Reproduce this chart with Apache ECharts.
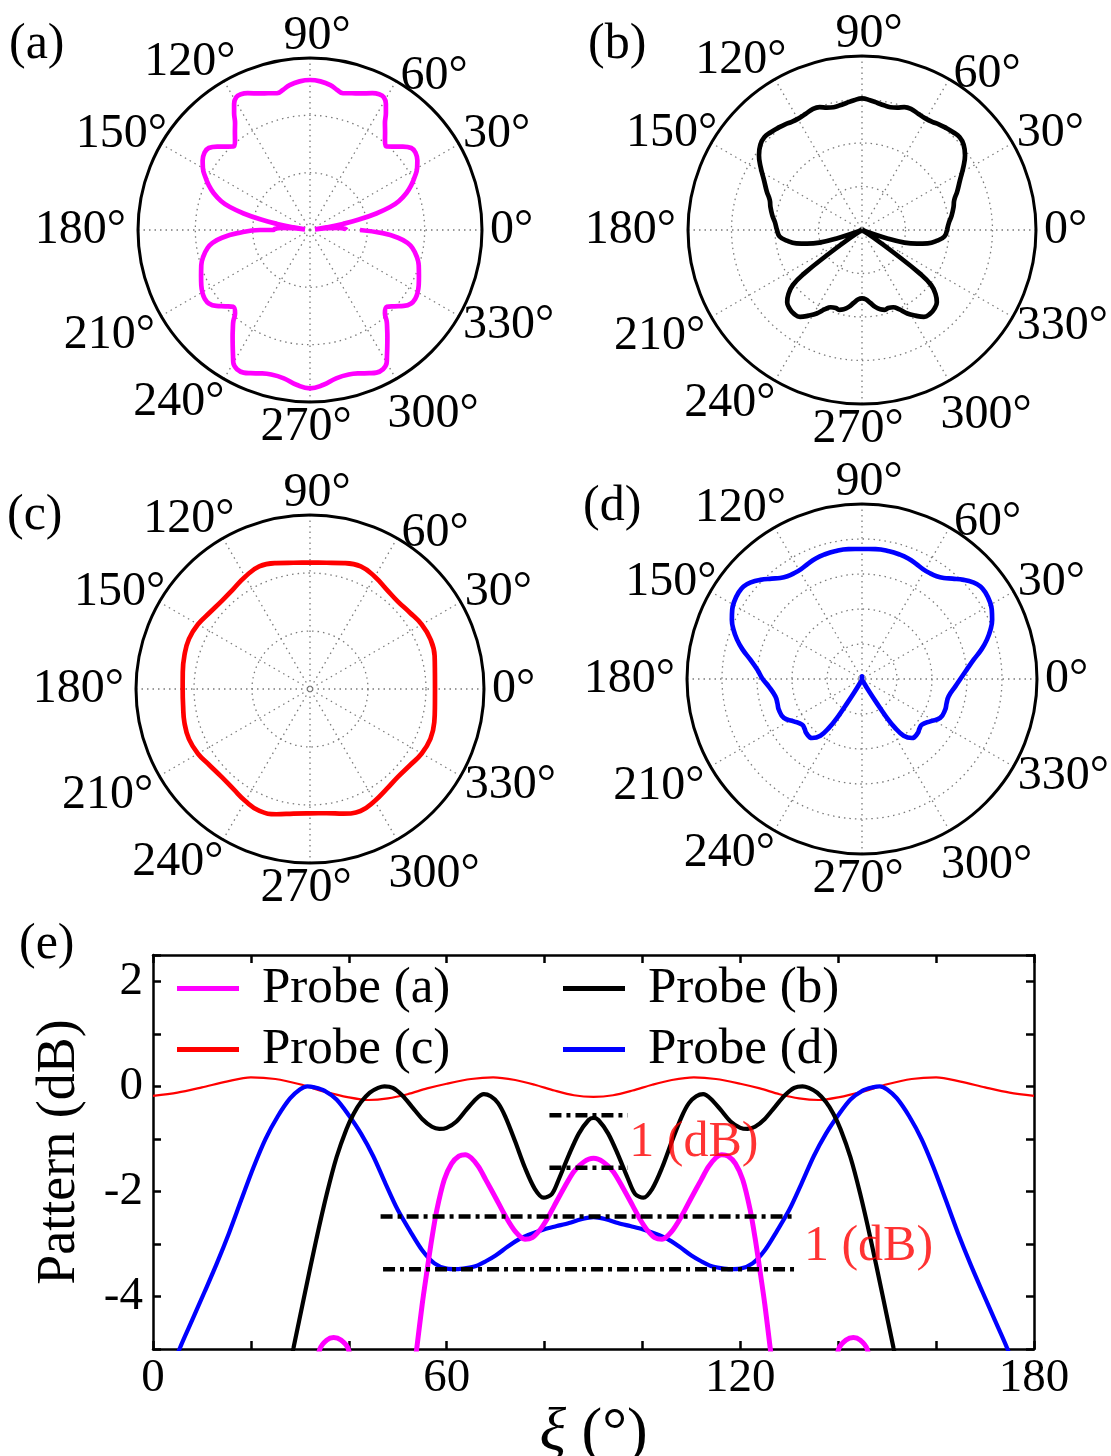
<!DOCTYPE html>
<html><head><meta charset="utf-8">
<script src="https://cdn.jsdelivr.net/npm/echarts@6/dist/echarts.min.js"></script>
<style>html,body{margin:0;padding:0;background:#fff}#chart{width:1111px;height:1456px}</style>
</head><body><div id="chart"></div>
<script>
const FONT = 'Liberation Serif';

// ---------- Polar (a): angle (deg) and radius (arbitrary units, outer circle = 516) ----------
const thetaA = [0,2,4,6,7.5,9,10.5,12,14,16,18,21,24,27,30,33,36,39,42,45,47.5,50,52.5,55,57,59,61,63,65.5,70,73,76.5,79,82,86,90,
  94,98,101,103.5,107,110,114.5,117,119,121,123,125,127.5,130,132.5,135,138,141,144,147,150,153,156,159,162,164,166,168,169.5,171,172.5,174,176,178,180,
  180,182.5,185,187.5,190,194,198,203,207,210.5,213,216,219,222,225,228,230,232,234,236.5,238.5,240,242.5,245,247.5,251,255,260,265,270,
  275,280,285,289,292.5,295,297.5,300,301.5,303.5,306,308,310,312,315,318,321,324,327,329.5,333,337,342,346,350,352.5,355,357.5,360];
const radiusA = [110,105,85,50,15,50,100,150,205,250,280,310,333,353,371,384,392,391,374,354,340,350,370,392,418,442,456,457,451,436,429,422,428,439,447,450,
  447,439,428,422,429,436,451,457,456,442,418,392,370,350,340,354,374,391,392,384,371,353,333,310,280,250,205,150,100,50,15,50,85,105,110,
  150,218,265,295,312,330,343,355,366,374,377,375,362,342,326,336,358,376,395,420,442,460,472,472,465,455,449,452,466,475,
  466,452,449,455,465,472,472,460,442,420,395,376,358,336,326,342,362,375,377,374,366,355,343,330,312,295,265,218,150];

// ---------- Polar (b): outer circle = 522 ----------
const thetaB = [0,5,9,14,18,22,27,32,36,40,43.5,47,51,54,57,60,64,68,71,74,77,80,83,86.5,90,
  93.5,97,100,103,106,109,112,116,120,123,126,129,133,136.5,140,144,148,153,158,162,166,171,175,180,
  184.5,188,191.5,194,196.5,198.5,200.5,203,207,211,213.5,215.5,217,218.5,221,224,227.5,231,234.5,238,241.5,245,248,251.5,254,257,260,263.5,267,270,
  273,276.5,280,283,286,288.5,292,295,298.5,302,305.5,309,312.5,316,319,321.5,323,324.5,326.5,329,333,337,339.5,341.5,343.5,346,348.5,352,355.5,360];
const radiusB = [255,262,272,283,291,308,330,359,382,398,404,401,396,392,387,385,387,392,390,382,378,380,384,390,395,
  390,384,380,378,382,390,392,387,385,387,392,396,401,404,398,382,359,330,308,291,283,272,262,255,
  248,228,201,170,133,75,20,0,0,0,40,115,220,265,292,312,321,324,320,303,285,262,250,247,249,244,235,220,208,205,
  208,220,235,244,249,247,250,262,285,303,320,324,321,312,292,265,220,115,40,0,0,0,20,75,133,170,201,228,248,255];

// ---------- Polar (c): outer circle = 522 ----------
const thetaC = [0,7.5,15,22.5,30,37.5,45,52.5,60,67.5,75,82.5,90,97.5,105,112.5,120,127.5,135,142.5,150,157.5,165,172.5,180,
  187.5,195,202.5,210,217.5,225,232.5,240,247.5,255,262.5,270,277.5,285,292.5,300,307.5,315,322.5,330,337.5,345,352.5,360];
const radiusC = [375,378,387,391,387,377,372,377,389,398,391,382,379,382,391,398,389,378,374,378,388,393,390,385,382,
  384,390,393,388,378,374,378,388,396,389,377,373,376,387,396,388,378,373,377,387,391,386,378,375];

// ---------- Polar (d): outer circle = 525 ----------
const thetaD = [0,5,9.8,14,17.5,21,24.5,28,31,35,38,41,44.3,48,51,54,57.5,61,65,69,73,78,84,90,
  96,102,107,111,115,119,122.5,126,129,132,135.7,139,142,145,149,152,155.5,159,162.5,166,170.2,175,180,
  184.5,191.3,196,200.2,206.5,211.8,217.3,221,224.1,229.7,233.7,236,237.5,238.5,240,243,255,
  90,
  285,297,300,301.5,302.5,304,306.3,310.3,315.9,319,322.7,328.2,333.5,339.8,344,348.7,355.5,360];
const radiusD = [295,315,340,370,393,413,429,441,448,452,451,442,426,405,390,381,377,377,382,387,390,392,392,390,
  392,392,390,387,382,377,377,381,390,405,426,442,451,452,448,441,429,413,393,370,340,315,298,
  281,265,264,266,262,241,226,228,233,232,211,175,130,85,45,15,2,
  8,
  2,15,45,85,130,175,211,232,233,228,226,241,262,266,264,265,281,295];

// ---------- Panel (e): pattern in dB vs xi (deg) ----------
const xiA = [31,34.1,35.5,36.9,38.4,39.9,43,46,
  52.5,53.9,55,56,57,58,59.5,61,62.5,63.8,65,66.5,68,70,72,74,76,77.5,79,80.5,82,84,86,88,90,
  92,94,96,98,99.5,101,102.5,104,106,108,110,112,113.5,115,116.2,117.5,119,120.5,122,123,124,125,126.1,127.5,
  134,137,140.1,141.6,143.1,144.5,145.9,149];
const dbA = [-6.2,-5.0,-4.83,-4.78,-4.83,-5.0,-6.2,'-',
  -6.0,-4.98,-4.15,-3.5,-2.88,-2.35,-1.78,-1.47,-1.33,-1.3,-1.36,-1.53,-1.78,-2.12,-2.47,-2.76,-2.91,-2.88,-2.74,-2.53,-2.27,-1.93,-1.62,-1.44,-1.37,
  -1.44,-1.62,-1.93,-2.27,-2.53,-2.74,-2.88,-2.91,-2.76,-2.47,-2.12,-1.78,-1.53,-1.36,-1.3,-1.33,-1.47,-1.78,-2.35,-2.88,-3.5,-4.15,-4.98,-6.0,
  '-',-6.2,-5.0,-4.83,-4.78,-4.83,-5.0,-6.2];

const xiB = [27,28.7,31,33.4,35.5,37.5,39.5,41,42.5,44.3,46,47.3,49,51,53,55,57,58.5,60,62,64,66,67.6,69,70.5,72,74,76,78,79.8,81.5,83,85,87,89,90,
  91,93,95,97,98.5,100.2,102,104,106,108,109.5,111,112.4,114,116,118,120,121.5,123,125,127,129,131,132.7,134,135.7,137.5,139,140.5,142.5,144.5,146.6,149,151.3,153];
const dbB = [-5.7,-4.98,-3.95,-2.9,-2.05,-1.35,-0.82,-0.52,-0.3,-0.12,-0.03,0.0,-0.03,-0.18,-0.4,-0.62,-0.77,-0.81,-0.79,-0.67,-0.45,-0.24,-0.15,-0.19,-0.32,-0.58,-1.05,-1.55,-1.95,-2.12,-2.05,-1.75,-1.3,-0.9,-0.64,-0.6,
  -0.64,-0.9,-1.3,-1.75,-2.05,-2.12,-1.95,-1.55,-1.05,-0.58,-0.32,-0.19,-0.15,-0.24,-0.45,-0.67,-0.79,-0.81,-0.77,-0.62,-0.4,-0.18,-0.03,0.0,-0.03,-0.12,-0.3,-0.52,-0.82,-1.35,-2.05,-2.9,-3.95,-4.98,-5.7];

const xiC = [0,5,10,15,20,25,30,35,40,44,48,52,56,60,65,69.5,74,78,82,86,90,94,98,102,106,110.5,115,120,124,128,132,136,140,145,150,155,160,165,170,175,180];
const dbC = [-0.18,-0.12,-0.02,0.09,0.17,0.14,0.04,-0.1,-0.21,-0.26,-0.23,-0.15,-0.04,0.05,0.14,0.17,0.12,0.03,-0.08,-0.17,-0.2,-0.17,-0.08,0.03,0.12,0.17,0.14,0.05,-0.04,-0.15,-0.23,-0.26,-0.21,-0.1,0.04,0.14,0.17,0.09,-0.02,-0.12,-0.18];

const xiD = [3,5.5,8,10.5,13,15.5,18,20.5,23,25.5,28,30,31.5,33,35,37.5,40,42.5,45,47.5,50,52.5,55,57.5,60,62,64,66,68,70,72.5,75,77.5,80,82.5,85,87.5,90,
  92.5,95,97.5,100,102.5,105,107.5,110,112,114,116,118,120,122.5,125,127.5,130,132.5,135,137.5,140,142.5,145,147,148.5,150,152,154.5,157,159.5,162,164.5,167,169.5,172,174.5,177];
const dbD = [-5.6,-4.98,-4.45,-3.92,-3.38,-2.8,-2.17,-1.55,-1.0,-0.57,-0.23,-0.06,0.0,-0.02,-0.08,-0.25,-0.55,-0.9,-1.33,-1.85,-2.35,-2.75,-3.12,-3.37,-3.47,-3.48,-3.46,-3.42,-3.33,-3.22,-3.05,-2.9,-2.8,-2.72,-2.66,-2.6,-2.53,-2.49,
  -2.53,-2.6,-2.66,-2.72,-2.8,-2.9,-3.05,-3.22,-3.33,-3.42,-3.46,-3.48,-3.47,-3.37,-3.12,-2.75,-2.35,-1.85,-1.33,-0.9,-0.55,-0.25,-0.08,-0.02,0.0,-0.06,-0.23,-0.57,-1.0,-1.55,-2.17,-2.8,-3.38,-3.92,-4.45,-4.98,-5.6];

// dash-dot reference levels (dB) and their xi extents
const refLevels = [-0.55, -1.55, -2.48, -3.48];
const refStart = [81, 81, 46.5, 47];
const refEnd = [97, 97, 131, 131.5];
// annotations
const annotText = ['1 (dB)', '1 (dB)'];
const annotXi = [97.3, 133.0];
const annotDb = [-1.07, -3.05];

const seriesNames = ['Probe (a)', 'Probe (b)', 'Probe (c)', 'Probe (d)'];
const colA = '#ff00ff', colB = '#000000', colC = '#ff0000', colD = '#0000ff';

function pairs(xs, ys) { return xs.map((x, i) => [x, ys[i]]); }
function polarPairs(th, rr) { return th.map((t, i) => [rr[i], t]); }

// per-label padding (style) so the angle labels sit where the original places them
const labelPad = { 0: [0,0,0,31], 30: [0,0,6,24], 60: [0,0,14,16], 90: [0,0,54,14], 120: [0,0,42,0], 150: [0,14,6,0],
  180: [0,35,0,0], 210: [26,26,0,0], 240: [50,11,0,0], 270: [60,8,0,0], 300: [74,0,0,3], 330: [6,0,0,24] };
const angleRich = {};
Object.keys(labelPad).forEach(k => {
  angleRich['p' + k] = { padding: labelPad[k], fontSize: 48, lineHeight: 36, fontFamily: FONT, color: '#000' };
});

const gridLine = { color: '#7a7a7a', type: [1.5, 4], width: 1.3 };
function angleAx(i) {
  return {
    polarIndex: i, type: 'value', min: 0, max: 360, interval: 30, startAngle: 0, clockwise: false,
    axisLine: { show: true, lineStyle: { color: '#000', width: 3 } },
    axisTick: { show: false },
    axisLabel: { show: true, formatter: v => '{p' + v + '|' + v + '°}', color: '#000', fontSize: 48, lineHeight: 36,
      fontFamily: FONT, margin: -23, rich: angleRich },
    splitLine: { show: true, lineStyle: gridLine }
  };
}
function radAx(i, max, step) {
  return {
    polarIndex: i, type: 'value', min: 0, max: max, interval: step,
    axisLine: { show: false }, axisTick: { show: false }, axisLabel: { show: false },
    splitLine: { show: true, lineStyle: gridLine }
  };
}
function polarSeries(i, data, color, name) {
  return { type: 'line', name: name, coordinateSystem: 'polar', polarIndex: i, data: data,
    showSymbol: false, symbol: 'none', smooth: 0.45, silent: true,
    lineStyle: { color: color, width: 4.7 }, itemStyle: { color: color } };
}

const labelFont = { fontSize: 50, fontWeight: 'normal', fontFamily: FONT, color: '#000' };
const legendCommon = {
  icon: 'rect', itemWidth: 62, itemHeight: 5, padding: 0, selectedMode: false, orient: 'horizontal',
  textStyle: { fontSize: 51, fontFamily: FONT, color: '#000', padding: [0, 0, 0, 18] }
};

const refSeries = refLevels.map((lv, i) => ({
  type: 'line', name: 'ref' + i, xAxisIndex: 0, yAxisIndex: 0, silent: true, symbol: 'none',
  data: [[refStart[i], lv], [refEnd[i], lv]],
  lineStyle: { color: '#000', width: 4.5, type: [12, 5, 4, 5] }, z: 4
}));

const option = {
  backgroundColor: '#fff',
  animation: false,
  title: [
    { text: '(a)', left: 9, top: 20, padding: 0, textStyle: labelFont },
    { text: '(b)', left: 588, top: 20, padding: 0, textStyle: labelFont },
    { text: '(c)', left: 7, top: 491, padding: 0, textStyle: labelFont },
    { text: '(d)', left: 583, top: 482, padding: 0, textStyle: labelFont },
    { text: '(e)', left: 19, top: 920, padding: 0, textStyle: labelFont }
  ],
  polar: [
    { center: [310, 230], radius: 172 },
    { center: [862, 230], radius: 174 },
    { center: [310, 689], radius: 174 },
    { center: [862, 679], radius: 175 }
  ],
  angleAxis: [angleAx(0), angleAx(1), angleAx(2), angleAx(3)],
  radiusAxis: [radAx(0, 516, 172), radAx(1, 522, 130.5), radAx(2, 522, 174), radAx(3, 525, 105)],
  grid: { left: 153, right: 77, top: 955, bottom: 107, outerBoundsMode: 'none' },
  xAxis: [
    { type: 'value', min: 0, max: 180, interval: 20, position: 'bottom',
      axisLine: { onZero: false, lineStyle: { color: '#000', width: 2.5 } },
      axisTick: { inside: true, length: 8, lineStyle: { color: '#000', width: 2.5 } },
      axisLabel: { formatter: v => (v % 60 === 0 ? String(v) : ''), color: '#000', fontSize: 47, fontFamily: FONT, margin: 6 },
      splitLine: { show: false },
      name: '{i|ξ} (°)', nameLocation: 'middle', nameGap: 36,
      nameTextStyle: { fontSize: 62, fontFamily: FONT, color: '#000',
        rich: { i: { fontStyle: 'italic', fontSize: 62, fontFamily: FONT, color: '#000' } } } },
    { type: 'value', min: 0, max: 180, interval: 20, position: 'top',
      axisLine: { onZero: false, lineStyle: { color: '#000', width: 2.5 } },
      axisTick: { inside: true, length: 8, lineStyle: { color: '#000', width: 2.5 } },
      axisLabel: { show: false }, splitLine: { show: false } }
  ],
  yAxis: [
    { type: 'value', min: -5, max: 2.5, interval: 1, position: 'left',
      axisLine: { onZero: false, lineStyle: { color: '#000', width: 2.5 } },
      axisTick: { inside: true, length: 8, lineStyle: { color: '#000', width: 2.5 } },
      axisLabel: { formatter: v => (Math.abs(v % 2) < 1e-9 ? String(v) : ''), color: '#000', fontSize: 47, fontFamily: FONT, margin: 10 },
      splitLine: { show: false },
      name: 'Pattern (dB)', nameLocation: 'middle', nameGap: 66,
      nameTextStyle: { fontSize: 54, fontFamily: FONT, color: '#000' } },
    { type: 'value', min: -5, max: 2.5, interval: 1, position: 'right',
      axisLine: { onZero: false, lineStyle: { color: '#000', width: 2.5 } },
      axisTick: { inside: true, length: 8, lineStyle: { color: '#000', width: 2.5 } },
      axisLabel: { show: false }, splitLine: { show: false } }
  ],
  legend: [
    Object.assign({ data: [seriesNames[0]], left: 177, top: 963 }, legendCommon),
    Object.assign({ data: [seriesNames[1]], left: 563, top: 963 }, legendCommon),
    Object.assign({ data: [seriesNames[2]], left: 177, top: 1024 }, legendCommon),
    Object.assign({ data: [seriesNames[3]], left: 563, top: 1024 }, legendCommon)
  ],
  series: [
    polarSeries(0, polarPairs(thetaA, radiusA), colA, 'polar (a)'),
    polarSeries(1, polarPairs(thetaB, radiusB), colB, 'polar (b)'),
    polarSeries(2, polarPairs(thetaC, radiusC), colC, 'polar (c)'),
    polarSeries(3, polarPairs(thetaD, radiusD), colD, 'polar (d)'),
    { type: 'line', name: seriesNames[2], data: pairs(xiC, dbC), symbol: 'none', smooth: 0.3, clip: true,
      lineStyle: { color: colC, width: 2.2 }, itemStyle: { color: colC }, z: 2 },
    { type: 'line', name: seriesNames[3], data: pairs(xiD, dbD), symbol: 'none', smooth: 0.3, clip: true,
      lineStyle: { color: colD, width: 4.2 }, itemStyle: { color: colD }, z: 3 },
    { type: 'line', name: seriesNames[1], data: pairs(xiB, dbB), symbol: 'none', smooth: 0.3, clip: true,
      lineStyle: { color: colB, width: 4.2 }, itemStyle: { color: colB }, z: 3 },
    { type: 'line', name: seriesNames[0], data: pairs(xiA, dbA), symbol: 'none', smooth: 0.3, clip: true, connectNulls: false,
      lineStyle: { color: colA, width: 5 }, itemStyle: { color: colA }, z: 3 },
    ...refSeries,
    { type: 'scatter', name: 'annot', data: pairs(annotXi, annotDb), symbolSize: 0, silent: true, z: 5,
      label: { show: true, position: 'right', distance: 0, formatter: p => annotText[p.dataIndex],
        color: '#ff0000', fontSize: 50, fontFamily: FONT } }
  ]
};

const chart = echarts.init(document.getElementById('chart'), null, { renderer: 'canvas' });
chart.setOption(option);
</script></body></html>
